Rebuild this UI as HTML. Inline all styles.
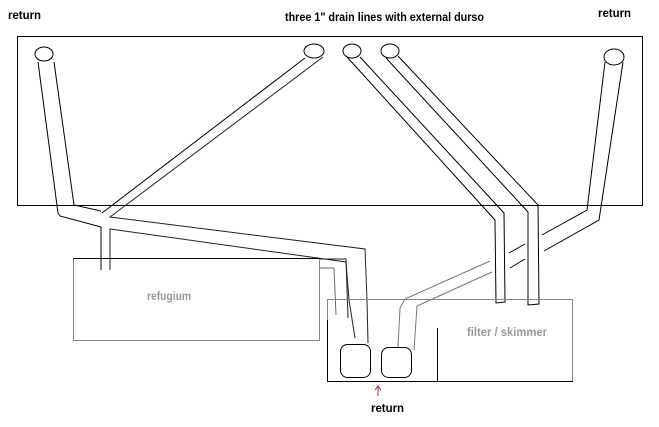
<!DOCTYPE html>
<html><head><meta charset="utf-8"><style>
html,body{margin:0;padding:0;background:#fff;width:659px;height:427px;overflow:hidden}
svg{display:block}
text{font-family:"Liberation Sans",sans-serif;font-weight:bold}
</style></head><body>
<svg width="659" height="427" viewBox="0 0 659 427" xmlns="http://www.w3.org/2000/svg">
<g fill="none" stroke="#000" stroke-width="1">
<!-- tank -->
<rect x="17.5" y="36.5" width="625" height="169"/>
<!-- left return -->
<ellipse cx="44" cy="54" rx="9" ry="7" fill="#fff"/>
<polyline points="38,62 58,213 60,216 101,227 101,270"/>
<polyline points="54,62 74,205 101,211"/>
<!-- left drain -->
<ellipse cx="314" cy="51" rx="10" ry="7" fill="#fff"/>
<polyline points="305,58 102,213"/>
<polyline points="323,57 110,217 365,249 367,300 368,343" stroke="#222"/>
<polyline points="110,270 110,229 346,262 349,300 355,338" stroke="#222"/>
<!-- refugium connections -->
<polyline points="320,259 346,259 348,318" stroke="#222"/>
<polyline points="320,268 334,268 336,315" stroke="#666"/>
<!-- right drains -->
<ellipse cx="352" cy="51" rx="9" ry="7" fill="#fff"/>
<ellipse cx="390" cy="51" rx="9" ry="7" fill="#fff"/>
<polyline points="347,57 495,220 496,303 505,302 504,213 360,57"/>
<polyline points="386,58 528,212 528,305 539,304 538,205 398,56"/>
<!-- right return -->
<ellipse cx="614" cy="57" rx="10" ry="8" fill="#fff"/>
<polyline points="605,62 587,210 542,235"/>
<polyline points="623,62 599,220 544,251"/>
<line x1="525" y1="244" x2="509" y2="253"/>
<line x1="525" y1="259" x2="510" y2="268"/>
<polyline points="490,261 405,299 400,308 398,347" stroke="#777"/>
<polyline points="492,272 417,306 414,350" stroke="#777"/>
<!-- refugium -->
<rect x="73.5" y="258.5" width="246" height="82" stroke="#888"/>
<line x1="73" y1="258.5" x2="320" y2="258.5"/>
<!-- sump -->
<rect x="327.5" y="299.5" width="245" height="82" stroke="#888"/>
<line x1="327" y1="381.5" x2="573" y2="381.5"/>
<line x1="327.5" y1="320" x2="327.5" y2="382"/>
<line x1="437.5" y1="328" x2="437.5" y2="382"/>
<!-- pumps -->
<rect x="340.5" y="344.5" width="30" height="33" rx="7"/>
<rect x="381.5" y="347.5" width="30" height="30" rx="7"/>
<!-- red arrow -->
<g stroke="#a33"><line x1="378" y1="386" x2="378" y2="396"/><polyline points="375,390 378,386 381,390"/></g>
</g>
<g font-size="12">
<text x="8" y="19" textLength="33" lengthAdjust="spacingAndGlyphs">return</text>
<text x="285" y="21" textLength="199" lengthAdjust="spacingAndGlyphs">three 1" drain lines with external durso</text>
<text x="598" y="17" textLength="33" lengthAdjust="spacingAndGlyphs">return</text>
<text x="371" y="412" textLength="33" lengthAdjust="spacingAndGlyphs">return</text>
<text x="147" y="300" fill="#999" textLength="44" lengthAdjust="spacingAndGlyphs">refugium</text>
<text x="467" y="336" fill="#999" textLength="80" lengthAdjust="spacingAndGlyphs">filter / skimmer</text>
</g>
</svg>
</body></html>
